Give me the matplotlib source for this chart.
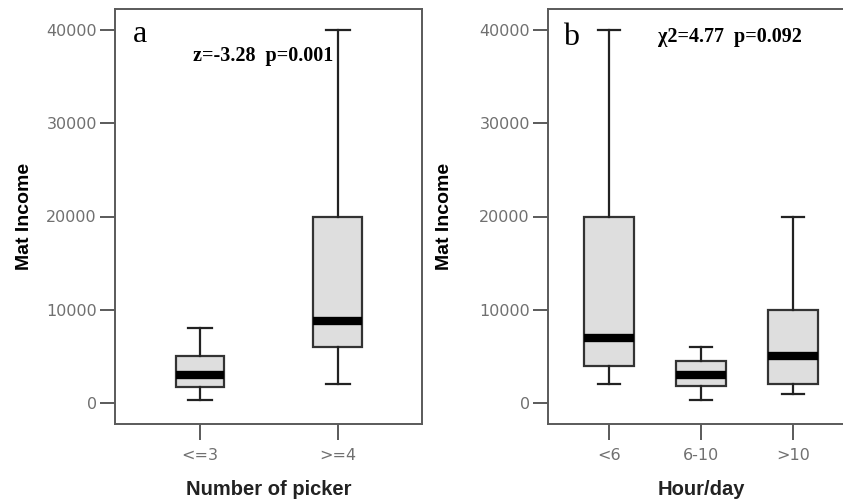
import numpy as np
import matplotlib
matplotlib.use("Agg")
import matplotlib.pyplot as plt

# Panel a: income by number of pickers
pick_cats = ["<=3", ">=4"]
pick_lo = [300, 2000]
pick_q1 = [1750, 6000]
pick_med = [3000, 8800]
pick_q3 = [5000, 20000]
pick_hi = [8000, 40000]

# Panel b: income by working hours per day
hour_cats = ["<6", "6-10", ">10"]
hour_lo = [2000, 300, 1000]
hour_q1 = [4000, 1800, 2000]
hour_med = [7000, 3000, 5000]
hour_q3 = [20000, 4500, 10000]
hour_hi = [40000, 6000, 20000]

yticks = [0, 10000, 20000, 30000, 40000]

W, H = 843, 499
fig = plt.figure(figsize=(W / 100, H / 100), dpi=100)

frame_col = "#5a5a5a"
box_edge = "#333333"
box_fill = "#dedede"


def make_stats(lo, q1, med, q3, hi):
    return [dict(whislo=a, q1=b, med=c, q3=d, whishi=e, fliers=[])
            for a, b, c, d, e in zip(lo, q1, med, q3, hi)]


def draw_panel(rect, cats, stats, xlim, bw, cw, xlabel, letter, lpos, note, npos, ylab_x):
    ax = fig.add_axes(rect)
    pos = np.arange(1, len(cats) + 1)
    ax.bxp(stats, positions=pos, widths=bw, capwidths=cw, patch_artist=True, showfliers=False,
           boxprops=dict(facecolor=box_fill, edgecolor=box_edge, linewidth=1.6),
           medianprops=dict(color="black", linewidth=6, solid_capstyle="butt"),
           whiskerprops=dict(color="#222222", linewidth=1.6),
           capprops=dict(color="#222222", linewidth=1.6))
    ax.set_xlim(*xlim)
    ax.set_ylim(-2252, 42252)
    ax.set_xticks(pos)
    ax.set_xticklabels(cats)
    ax.set_yticks(yticks)
    ax.set_yticklabels([str(v) for v in yticks])
    for s in ax.spines.values():
        s.set_color(frame_col)
        s.set_linewidth(1.4)
    ax.tick_params(axis="y", length=11, width=1.4, color=frame_col, pad=2,
                   labelsize=11.5, labelcolor="#707070")
    ax.tick_params(axis="x", length=11.5, width=1.4, color=frame_col, pad=6,
                   labelsize=11.5, labelcolor="#707070")
    for t in ax.get_xticklabels() + ax.get_yticklabels():
        t.set_family("DejaVu Sans")
    ax.set_ylabel("Mat Income", fontsize=14, fontweight="bold", family="Liberation Sans")
    ax.yaxis.set_label_coords(ylab_x, 0.5)
    ax.set_xlabel(xlabel, fontsize=14.5, fontweight="bold", family="Liberation Sans", color="#222222")
    ax.xaxis.set_label_coords(0.5, -0.135)
    ax.text(lpos[0], lpos[1], letter, transform=ax.transAxes, fontsize=23,
            family="Liberation Serif", va="baseline", ha="left")
    ax.text(npos[0], npos[1], note, transform=ax.transAxes, fontsize=14.5,
            family="Liberation Serif", fontweight="bold", va="baseline", ha="center")
    return ax


draw_panel([115 / W, 75 / H, 307 / W, 415 / H], pick_cats,
           make_stats(pick_lo, pick_q1, pick_med, pick_q3, pick_hi),
           (0.384, 2.609), 0.355, 0.174, "Number of picker", "a", (0.059, 0.92),
           "z=-3.28  p=0.001", (0.482, 0.875), -0.267)

draw_panel([548 / W, 75 / H, 306 / W, 415 / H], hour_cats,
           make_stats(hour_lo, hour_q1, hour_med, hour_q3, hour_hi),
           (0.337, 3.663), 0.54, 0.24, "Hour/day", "b", (0.049, 0.913),
           "χ2=4.77  p=0.092", (0.595, 0.92), -0.31)

fig.savefig("out.png", dpi=100)
